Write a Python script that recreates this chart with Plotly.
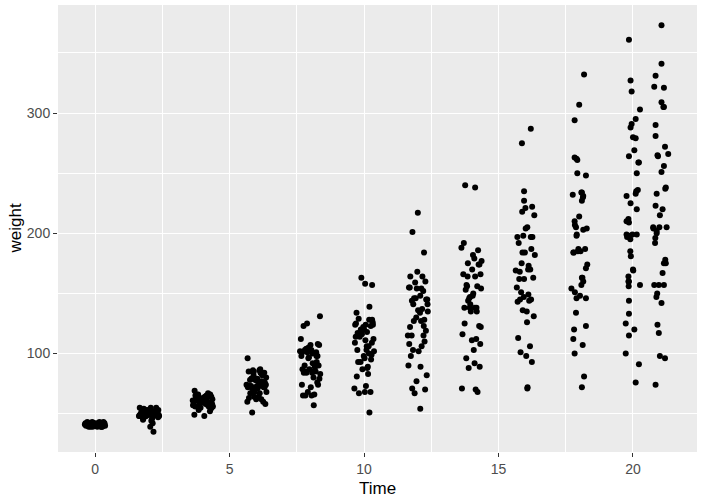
import plotly.graph_objects as go

# ChickWeight: weight by Time, one list per measurement day (chick order)
times = [0, 2, 4, 6, 8, 10, 12, 14, 16, 18, 20, 21]

w0 = [42, 40, 43, 42, 41, 41, 41, 42, 42, 41, 43, 41, 41, 41, 41, 41, 42, 39, 43, 41,
      40, 41, 43, 42, 40, 42, 39, 39, 39, 42, 42, 41, 39, 41, 41, 39, 41, 41, 42, 41,
      42, 42, 42, 42, 41, 40, 41, 39, 40, 41]
w2 = [51, 49, 39, 49, 42, 49, 49, 50, 51, 44, 51, 49, 48, 49, 49, 45, 51, 35, 48, 47,
      50, 55, 52, 52, 49, 48, 46, 46, 48, 48, 53, 49, 50, 49, 53, 48, 48, 49, 50, 55,
      51, 49, 55, 51, 50, 52, 53, 50, 53, 54]
w4 = [59, 58, 55, 56, 48, 59, 57, 61, 59, 52, 63, 56, 53, 62, 56, 49, 61, 55, 54,
      62, 64, 61, 58, 62, 57, 58, 58, 59, 59, 62, 65, 63, 63, 64, 61, 56, 61, 61, 66,
      66, 63, 69, 65, 61, 62, 66, 62, 64, 67]
w6 = [64, 72, 67, 67, 60, 74, 71, 71, 68, 63, 84, 62, 60, 79, 64, 51, 72, 62, 58,
      86, 77, 73, 74, 78, 74, 73, 73, 74, 72, 73, 82, 77, 85, 87, 76, 68, 74, 78, 79,
      85, 84, 96, 86, 78, 82, 79, 80, 85, 84]
w8 = [76, 84, 84, 74, 79, 97, 89, 84, 85, 74, 112, 72, 65, 101, 68, 57, 83, 65, 65,
      125, 90, 90, 66, 102, 93, 87, 92, 87, 85, 85, 107, 96, 107, 123, 98, 80, 98, 89, 101,
      103, 103, 131, 103, 98, 101, 100, 104, 108, 105]
w10 = [93, 103, 99, 87, 106, 124, 112, 93, 96, 81, 139, 88, 67, 128, 68, 51, 89, 71, 73,
       163, 95, 103, 68, 124, 114, 100, 114, 106, 98, 102, 129, 111, 134, 158, 116, 83, 109, 109, 120,
       124, 126, 157, 118, 117, 120, 123, 125, 128, 122]
w12 = [106, 122, 115, 102, 141, 141, 146, 110, 90, 89, 168, 119, 71, 164, 67, 54, 98, 82, 77,
       217, 108, 127, 70, 146, 136, 115, 145, 134, 115, 123, 159, 137, 164, 201, 145, 103, 128, 130, 154,
       155, 160, 184, 127, 135, 144, 148, 154, 152, 155]
w14 = [125, 138, 138, 108, 164, 148, 174, 116, 92, 96, 177, 135, 70, 192, 68, 103, 88, 89,
       240, 111, 135, 71, 164, 147, 123, 156, 150, 122, 138, 179, 144, 186, 238, 166, 112, 154, 146, 182,
       153, 174, 188, 138, 141, 156, 157, 170, 166, 175]
w16 = [149, 162, 163, 136, 197, 155, 218, 126, 93, 101, 182, 162, 71, 227, 113, 106, 98,
       275, 131, 145, 72, 197, 169, 144, 184, 187, 143, 170, 221, 151, 235, 287, 198, 135, 192, 170, 215,
       175, 204, 197, 145, 147, 173, 168, 222, 184, 205]
w18 = [171, 187, 187, 154, 199, 160, 250, 134, 100, 112, 184, 185, 81, 248, 123, 120, 107,
       307, 148, 163, 72, 231, 205, 163, 207, 230, 151, 204, 263, 146, 294, 332, 227, 157, 232, 214, 262,
       184, 234, 198, 146, 174, 210, 185, 261, 203, 234]
w20 = [199, 209, 198, 160, 220, 160, 288, 125, 100, 120, 181, 195, 91, 259, 133, 144, 115,
       318, 164, 170, 76, 259, 236, 185, 212, 279, 157, 235, 291, 156, 327, 361, 225, 169, 280, 250, 295,
       199, 269, 199, 197, 231, 210, 303, 233, 264]
w21 = [205, 215, 202, 157, 223, 157, 305, 98, 124, 175, 205, 96, 266, 142, 157, 117,
       331, 167, 175, 74, 265, 251, 192, 233, 309, 150, 256, 305, 147, 341, 373, 220, 178, 290, 272, 321,
       204, 281, 200, 196, 238, 205, 322, 237, 264]

# horizontal jitter of each point
j0 = [0.12, -0.25, 0.31, -0.08, 0.22, -0.33, 0.05, 0.27, -0.15, 0.18, -0.29, 0.09, -0.02, 0.34, -0.19,
      0.14, -0.36, 0.25, -0.11, 0.03, 0.29, -0.23, 0.16, -0.05, 0.37, -0.31, 0.08, -0.17, 0.21, -0.27,
      0.11, 0.33, -0.09, 0.02, -0.21, 0.26, -0.38, 0.19, -0.13, 0.06, 0.35, -0.28, 0.15, -0.01, 0.24,
      -0.34, 0.1, -0.24, 0.3, -0.07]
j2 = [-0.18, 0.27, 0.05, -0.33, 0.14, 0.36, -0.06, 0.21, -0.26, 0.09, 0.31, -0.14, -0.37, 0.18, 0.02,
      -0.22, 0.25, 0.17, -0.1, 0.34, -0.29, 0.07, 0.16, -0.04, 0.29, -0.35, 0.12, -0.2, 0.38, -0.12,
      0.01, 0.24, -0.3, 0.19, -0.08, 0.33, -0.24, 0.1, -0.16, 0.27, -0.02, 0.15, -0.34, 0.06, 0.23,
      -0.27, 0.35, -0.11, 0.04, -0.19]
j4 = [0.21, -0.12, 0.33, -0.28, 0.06, 0.17, -0.36, 0.1, -0.05, 0.27, -0.21, 0.38, -0.15, 0.02, 0.24,
      -0.31, 0.13, -0.08, 0.3, -0.25, 0.08, -0.18, 0.35, -0.02, 0.19, -0.33, 0.11, 0.26, -0.1, 0.04,
      -0.27, 0.16, -0.14, 0.32, -0.04, 0.23, -0.37, 0.07, -0.22, 0.28, 0.0, -0.3, 0.14, -0.07, 0.36,
      -0.17, 0.09, -0.24, 0.2]
j6 = [-0.09, 0.3, -0.23, 0.12, -0.34, 0.2, 0.04, -0.16, 0.37, -0.28, 0.15, -0.01, 0.25, -0.19, 0.08,
      -0.16, -0.32, 0.18, 0.33, -0.13, 0.06, -0.26, 0.22, -0.04, 0.35, -0.2, 0.1, -0.37, 0.27, 0.01,
      -0.11, 0.19, -0.29, 0.14, 0.31, -0.07, 0.24, -0.24, 0.03, -0.15, 0.29, -0.33, 0.11, -0.02, 0.21,
      -0.18, 0.36, -0.1, 0.16]
j8 = [0.26, -0.14, 0.07, -0.31, 0.34, -0.05, 0.18, -0.24, 0.11, 0.29, -0.35, 0.02, -0.18, 0.22, -0.09,
      0.13, 0.37, -0.27, 0.05, -0.12, 0.31, -0.21, 0.15, -0.38, 0.24, -0.03, 0.09, -0.29, 0.2, -0.16,
      0.33, -0.07, 0.01, -0.25, 0.27, 0.12, -0.33, 0.17, -0.11, 0.04, -0.2, 0.36, -0.01, 0.23, -0.3,
      0.08, -0.15, 0.28, -0.06]
j10 = [-0.22, 0.09, 0.28, -0.06, 0.17, -0.33, 0.35, -0.13, 0.02, -0.27, 0.2, 0.12, -0.19, 0.3, 0.24,
       0.2, 0.14, -0.36, 0.07, -0.1, 0.26, -0.25, 0.03, 0.33, -0.16, 0.18, -0.31, 0.1, -0.01, 0.37,
       -0.2, 0.05, -0.28, 0.04, -0.08, 0.15, -0.34, 0.29, -0.12, 0.06, 0.32, 0.3, 0.11, -0.24, 0.0,
       0.25, -0.3, 0.19, -0.03]
j12 = [0.14, -0.29, 0.21, 0.03, -0.17, 0.36, -0.08, 0.25, -0.35, 0.1, -0.02, 0.3, -0.21, 0.17, -0.12,
       0.09, -0.26, 0.33, -0.05, 0.0, -0.32, 0.12, 0.27, -0.14, 0.01, -0.23, 0.35, 0.08, -0.37, 0.22,
       -0.1, 0.16, -0.28, -0.2, 0.31, -0.18, 0.24, -0.06, 0.13, -0.3, 0.28, 0.23, -0.15, 0.37, -0.22,
       0.09, -0.04, 0.2, -0.33]
j14 = [-0.26, 0.18, -0.07, 0.32, -0.15, 0.04, 0.26, -0.34, 0.11, -0.2, 0.37, -0.03, 0.15, -0.29, 0.22,
       0.08, -0.11, 0.3, -0.24, 0.01, 0.19, -0.36, 0.13, -0.06, 0.28, -0.17, 0.06, 0.34, -0.27, 0.1,
       -0.13, 0.24, 0.13, -0.31, 0.17, 0.35, -0.09, 0.05, -0.22, 0.29, -0.38, 0.12, -0.05, 0.21, -0.19,
       0.02, 0.33, -0.14]
j16 = [0.11, -0.23, 0.29, -0.1, 0.2, -0.32, -0.12, 0.06, 0.24, -0.18, 0.35, -0.05, 0.07, -0.05, -0.27,
       0.17, 0.03, -0.13, 0.31, -0.2, 0.08, 0.26, -0.36, 0.14, -0.02, 0.22, -0.29, 0.1, 0.0, -0.16,
       -0.05, 0.2, -0.08, 0.05, -0.25, 0.18, 0.33, -0.14, 0.01, -0.3, 0.21, -0.06, 0.12, -0.21, 0.25,
       -0.11, 0.07]
j18 = [0.25, 0.22, -0.03, -0.29, -0.09, 0.15, -0.07, -0.12, -0.17, -0.22, -0.22, -0.05, 0.18, 0.25,
       0.25, -0.19, 0.13, 0.0, 0.03, 0.1, 0.1, 0.15, -0.12, 0.12, -0.16, 0.14, -0.16,
       0.28, -0.17, 0.25, -0.17, 0.18, 0.1, 0.08, -0.24, 0.0, -0.1,
       -0.2, 0.1, -0.1, -0.1, 0.3, -0.17, 0.05, -0.07, 0.15, 0.08]
j20 = [-0.24, -0.15, -0.12, -0.15, 0.14, -0.17, -0.09, -0.27, -0.27, 0.05, -0.08, -0.1, 0.22, 0.22,
       -0.15, -0.15, -0.15, -0.05, -0.17, 0.0, 0.1, 0.2, 0.18, -0.1, -0.17, 0.1, 0.26,
       0.12, -0.05, -0.16, -0.09, -0.15, -0.09, 0.01, 0.0, 0.14, 0.1,
       0.14, 0.05, -0.02, -0.22, -0.24, -0.24, 0.26, 0.1, -0.15]
j21 = [-0.25, 0.0, -0.12, -0.21, -0.16, -0.04, 0.15, 0.0, -0.09, 0.15, -0.02, 0.19, 0.31, 0.06,
       0.15, -0.04, -0.16, 0.1, 0.22, -0.16, -0.09, 0.06, -0.18, -0.12, 0.06, -0.1,
       0.15, 0.13, -0.13, 0.06, 0.06, 0.1, 0.2, -0.16, 0.19, 0.15,
       -0.24, -0.16, -0.12, -0.17, 0.22, 0.25, -0.21, 0.2, -0.07]

weights = [w0, w2, w4, w6, w8, w10, w12, w14, w16, w18, w20, w21]
jitters = [j0, j2, j4, j6, j8, j10, j12, j14, j16, j18, j20, j21]

xs, ys = [], []
for t, w, j in zip(times, weights, jitters):
    assert len(w) == len(j), (t, len(w), len(j))
    xs += [t + d for d in j]
    ys += w

fig = go.Figure(go.Scatter(
    x=xs, y=ys, mode="markers",
    marker=dict(color="black", size=6, line=dict(width=0)),
    showlegend=False,
))

axis_style = dict(
    showline=False, zeroline=False, automargin=False,
    showgrid=True, gridcolor="white", gridwidth=1.4,
    ticks="outside", ticklen=4, tickwidth=1, tickcolor="#333333",
    tickfont=dict(size=14, color="#4D4D4D"),
)
fig.update_xaxes(
    **axis_style, range=[-1.38, 22.38], tickvals=[0, 5, 10, 15, 20],
    minor=dict(showgrid=True, gridcolor="white", gridwidth=0.7, tickvals=[2.5, 7.5, 12.5, 17.5]),
)
fig.update_yaxes(
    **axis_style, range=[18.1, 389.9], tickvals=[100, 200, 300],
    minor=dict(showgrid=True, gridcolor="white", gridwidth=0.7, tickvals=[50, 150, 250, 350]),
)
fig.update_layout(
    width=702, height=500,
    margin=dict(l=58, r=5, t=5, b=48),
    plot_bgcolor="#EBEBEB", paper_bgcolor="white",
    font=dict(family="Liberation Sans, Arial, sans-serif"),
    annotations=[
        dict(text="Time", xref="paper", yref="paper", x=0.5, y=0, yshift=-36,
             xanchor="center", yanchor="middle", showarrow=False,
             font=dict(size=17, color="black")),
        dict(text="weight", xref="paper", yref="paper", x=0, y=0.5, xshift=-43,
             xanchor="center", yanchor="middle", textangle=-90, showarrow=False,
             font=dict(size=17, color="black")),
    ],
)

# the page's default body margin would push the 702x500 figure off the window
fig.write_html("out.html", config={"displayModeBar": False},
               post_script="document.body.style.margin = '0';")
